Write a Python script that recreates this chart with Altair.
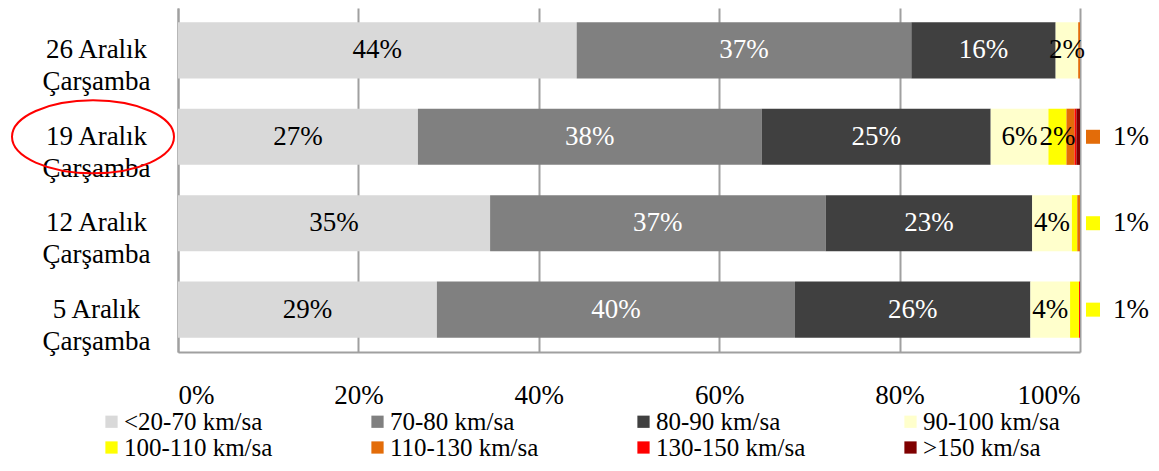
import altair as alt
import pandas as pd

rows = ["26 Aralık Çarşamba", "19 Aralık Çarşamba", "12 Aralık Çarşamba", "5 Aralık Çarşamba"]
categories = ["<20-70 km/sa", "70-80 km/sa", "80-90 km/sa", "90-100 km/sa",
              "100-110 km/sa", "110-130 km/sa", "130-150 km/sa", ">150 km/sa"]
colors = ["#D9D9D9", "#808080", "#404040", "#FFFFCC", "#FFFF00", "#E36C09", "#FF0000", "#7F0000"]
white_label_cats = ["70-80 km/sa", "80-90 km/sa"]

v26 = [44.2, 37.1, 16.0, 2.5, 0.0, 0.2, 0.0, 0.0]
v19 = [26.6, 38.1, 25.4, 6.4, 2.0, 0.9, 0.2, 0.4]
v12 = [34.6, 37.2, 22.9, 4.4, 0.6, 0.3, 0.0, 0.0]
v05 = [28.7, 39.7, 26.1, 4.4, 1.0, 0.0, 0.1, 0.0]
series = [v26, v19, v12, v05]

outside_rows = ["19 Aralık Çarşamba", "12 Aralık Çarşamba", "5 Aralık Çarşamba"]
outside_cats = ["110-130 km/sa", "100-110 km/sa", "100-110 km/sa"]
highlighted_row = "19 Aralık Çarşamba"
x_ticks = [0, 20, 40, 60, 80, 100]
min_inside_label = 1.5

FONT = "Liberation Serif"
FS = 27
LFS = 25

recs = []
for r, vals in zip(rows, series):
    acc = 0.0
    for i, (c, v) in enumerate(zip(categories, vals)):
        if v > 0:
            recs.append({"row": r, "cat": c, "order": i, "value": v,
                         "start": acc, "end": acc + v, "mid": acc + v / 2,
                         "label": f"{round(v)}%",
                         "inside": v >= min_inside_label,
                         "white": c in white_label_cats})
        acc += v
df = pd.DataFrame(recs)

out_recs = []
for r, c in zip(outside_rows, outside_cats):
    v = series[rows.index(r)][categories.index(c)]
    out_recs.append({"row": r, "cat": c, "pos": 100, "label": f"{max(1, round(v))}%"})
df_out = pd.DataFrame(out_recs)

xscale = alt.Scale(domain=[0, 100], nice=False)
x_axis = alt.Axis(values=x_ticks, labelExpr="datum.value + '%'", ticks=False,
                  labelPadding=30, labelFont=FONT, labelFontSize=FS, labelColor="black",
                  grid=True, gridColor="#A0A0A0", gridWidth=2,
                  domainColor="#A0A0A0", domainWidth=2, title=None)
y_axis = alt.Axis(labelExpr="[replace(datum.label, ' Çarşamba', ''), 'Çarşamba']",
                  labelAlign="center", labelBaseline="middle", labelPadding=82,
                  labelFont=FONT, labelFontSize=FS, labelLineHeight=32, labelColor="black",
                  labelLimit=300, ticks=False, domainColor="#A0A0A0", domainWidth=2, title=None)
yscale = alt.Scale(domain=rows, paddingInner=0.35, paddingOuter=0.165)
y_enc = alt.Y("row:N", sort=rows, scale=yscale, axis=y_axis)
color_scale = alt.Scale(domain=categories, range=colors)

bars = alt.Chart(df).mark_bar().encode(
    x=alt.X("start:Q", scale=xscale, axis=x_axis),
    x2="end:Q",
    y=y_enc,
    color=alt.Color("cat:N", scale=color_scale, sort=categories,
                    legend=alt.Legend(title=None, orient="none", legendX=-79, legendY=401,
                                      direction="horizontal", columns=4,
                                      symbolType="square", symbolSize=150, symbolStrokeWidth=0,
                                      labelFont=FONT, labelFontSize=LFS, labelColor="black",
                                      labelOffset=0, columnPadding=92, rowPadding=0,
                                      padding=0, labelLimit=300)),
)

lab_black = alt.Chart(df).transform_filter("datum.inside && !datum.white").mark_text(
    font=FONT, fontSize=FS, baseline="middle", align="center", color="black"
).encode(x=alt.X("mid:Q", scale=xscale, axis=x_axis), y=y_enc, text="label:N")

lab_white = alt.Chart(df).transform_filter("datum.inside && datum.white").mark_text(
    font=FONT, fontSize=FS, baseline="middle", align="center", color="white"
).encode(x=alt.X("mid:Q", scale=xscale, axis=x_axis), y=y_enc, text="label:N")

out_sq = alt.Chart(df_out).mark_square(size=196, xOffset=13, opacity=1, strokeWidth=0).encode(
    x=alt.X("pos:Q", scale=xscale, axis=x_axis), y=y_enc,
    color=alt.Color("cat:N", scale=color_scale, legend=None),
)
out_txt = alt.Chart(df_out).mark_text(font=FONT, fontSize=FS, baseline="middle", align="left",
                                      dx=33, color="black").encode(
    x=alt.X("pos:Q", scale=xscale, axis=x_axis), y=y_enc, text="label:N")

ellipse_path = "M -1 0 A 1 0.45 0 1 0 1 0 A 1 0.45 0 1 0 -1 0 Z"
ellipse = alt.Chart(pd.DataFrame({"row": [highlighted_row]})).mark_point(
    shape=ellipse_path, size=162 * 162, filled=False, color="#FF0000", strokeWidth=2, opacity=1
).encode(x=alt.value(-85), y=y_enc)

chart = alt.layer(bars, lab_black, lab_white, out_sq, out_txt, ellipse).properties(
    width=902, height=344,
    padding={"left": 0, "top": 0, "right": 0, "bottom": 0},
).configure_view(stroke=None)

chart.save("out.html", embed_options={"renderer": "svg", "actions": False})
